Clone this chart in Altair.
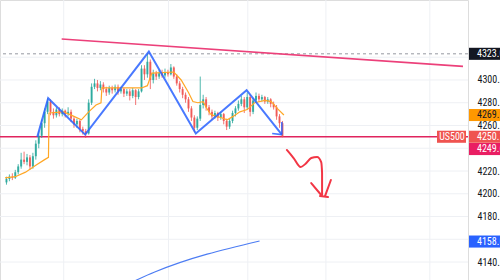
import altair as alt
import pandas as pd

# ---------------- data ----------------
opens = [4210, 4213, 4215, 4214, 4219, 4224, 4230, 4228, 4232, 4224,
         4233, 4244, 4251, 4262, 4272, 4281, 4272, 4269, 4274, 4270,
         4273, 4270, 4272, 4266, 4261, 4264, 4257, 4255, 4253, 4280,
         4294, 4297, 4293, 4296, 4292, 4289, 4293, 4291, 4294, 4290,
         4292, 4288, 4290, 4286, 4291, 4285, 4290, 4310, 4305, 4316,
         4300, 4306, 4303, 4306, 4304, 4307, 4305, 4311, 4303, 4297,
         4292, 4287, 4283, 4275, 4267, 4258, 4266, 4278, 4283, 4276,
         4272, 4268, 4271, 4267, 4270, 4264, 4259, 4264, 4271, 4275,
         4279, 4283, 4276, 4285, 4272, 4282, 4286, 4283, 4285, 4281,
         4283, 4279, 4276, 4268, 4262]
closes = [4213, 4215, 4214, 4219, 4224, 4230, 4228, 4232, 4224, 4233,
          4244, 4251, 4262, 4272, 4281, 4272, 4269, 4274, 4270, 4273,
          4270, 4272, 4266, 4261, 4264, 4257, 4255, 4253, 4280, 4294,
          4297, 4293, 4296, 4292, 4289, 4293, 4291, 4294, 4290, 4292,
          4288, 4290, 4286, 4291, 4285, 4290, 4310, 4305, 4316, 4300,
          4306, 4303, 4306, 4304, 4307, 4305, 4311, 4303, 4297, 4292,
          4287, 4283, 4275, 4267, 4258, 4266, 4278, 4283, 4276, 4272,
          4268, 4271, 4267, 4270, 4264, 4259, 4264, 4271, 4275, 4279,
          4283, 4276, 4285, 4272, 4282, 4286, 4283, 4285, 4281, 4283,
          4279, 4276, 4268, 4262, 4250.1]
highs = [4215, 4217, 4218, 4221, 4226, 4236, 4237, 4235, 4234, 4236,
         4247, 4255, 4265, 4275, 4284, 4283, 4275, 4276, 4276, 4275,
         4274, 4276, 4274, 4268, 4266, 4265, 4259, 4257, 4283, 4297,
         4301, 4300, 4299, 4298, 4294, 4295, 4295, 4296, 4296, 4294,
         4293, 4292, 4292, 4293, 4292, 4292, 4313, 4313, 4323, 4318,
         4309, 4308, 4309, 4309, 4310, 4309, 4314, 4312, 4305, 4299,
         4294, 4289, 4285, 4277, 4269, 4268, 4303, 4287, 4285, 4278,
         4274, 4273, 4272, 4272, 4271, 4266, 4266, 4273, 4277, 4282,
         4286, 4285, 4289, 4287, 4284, 4289, 4288, 4287, 4286, 4285,
         4284, 4281, 4278, 4270, 4264]
lows = [4208, 4211, 4212, 4213, 4217, 4222, 4226, 4225, 4221, 4222,
        4230, 4240, 4249, 4258, 4270, 4269, 4266, 4267, 4268, 4268,
        4267, 4268, 4263, 4258, 4258, 4254, 4252, 4249, 4252, 4278,
        4292, 4290, 4291, 4289, 4286, 4287, 4288, 4289, 4287, 4288,
        4285, 4286, 4282, 4284, 4278, 4283, 4289, 4300, 4302, 4292,
        4297, 4300, 4301, 4302, 4302, 4303, 4304, 4301, 4295, 4289,
        4284, 4280, 4272, 4264, 4254, 4256, 4264, 4275, 4273, 4269,
        4265, 4266, 4264, 4265, 4261, 4256, 4257, 4262, 4268, 4273,
        4277, 4271, 4274, 4268, 4270, 4280, 4281, 4281, 4279, 4279,
        4276, 4274, 4265, 4258, 4249.6]

ma_idx = [-0.5, 3, 6.5, 10, 13, 14.3, 14.5, 19.5, 23, 25.5, 28, 30.5, 32.2,
          32.5, 46, 48, 49.5, 57, 59.5, 62, 63.5, 65.2, 67, 68, 69.5, 71.2,
          73, 75.2, 77.2, 79.5, 82, 84.5, 88, 90.2, 92.2, 94.5]
ma_val = [4214, 4215, 4219, 4225, 4230, 4232, 4271, 4272, 4268, 4265, 4272,
          4278, 4280, 4293, 4293, 4295, 4306, 4307, 4300, 4289, 4281, 4280,
          4281, 4276, 4270, 4268, 4267, 4265, 4268, 4272, 4274, 4280, 4282,
          4281, 4275, 4269.2]

zig_idx = [10.5, 14.2, 26.8, 48.5, 64.5, 81.8, 93.8]
zig_val = [4250, 4284, 4252, 4325, 4253, 4291, 4252]
zig_head_idx = [93.8, 93.8, 90.5, 93.8]
zig_head_val = [4263, 4252, 4253, 4252]
zig_head_seg = [0, 0, 1, 1]

trend_idx = [18.8, 155.5]
trend_val = [4336, 4312]

low_line_idx = [42.8, 50.5, 86.2]
low_line_val = [4122.4, 4131.2, 4158.5]

arrow_idx = [95.5, 97.8, 100.2, 101.8, 103.8, 105.8, 107.2, 107.5, 107.5,
             103.8, 107.2, 110.5, 108.5, 106.8, 109.5]
arrow_val = [4238.5, 4231.4, 4223.5, 4226.2, 4231.4, 4232.3, 4227.9, 4218.2,
             4198.9, 4209.4, 4198.9, 4212.1, 4198.0, 4198.0, 4197.1]
arrow_seg = [0, 0, 0, 0, 0, 0, 0, 0, 0, 1, 1, 2, 2, 3, 3]

grid_x = [19.5, 55.2, 82.2, 108.8, 144.2]
grid_y = [4140, 4160, 4180, 4200, 4220, 4240, 4260, 4280, 4300, 4320]
support_level = [4250]
high_level = [4323]

label_pos = [4323.0, 4269.2, 4250.1, 4239.3, 4158.0]
label_text = ["4323.0", "4269.2", "4250.1", "4249.6", "4158.0"]
label_fill = ["#131722", "#ff9800", "#ef5350", "#e91e63", "#2962ff"]
label_ink = ["#ffffff", "#131722", "#ffffff", "#ffffff", "#ffffff"]
# tick labels that are not hidden under the price boxes
axis_ticks = [4140, 4180, 4200, 4220, 4260, 4280, 4300]

# ---------------- frames ----------------
candles = pd.DataFrame({"i": list(range(len(closes))), "o": opens, "c": closes,
                        "h": highs, "l": lows})
ma = pd.DataFrame({"i": ma_idx, "p": ma_val, "k": list(range(len(ma_idx)))})
zig = pd.DataFrame({"i": zig_idx, "p": zig_val, "k": list(range(len(zig_idx)))})
zhead = pd.DataFrame({"i": zig_head_idx, "p": zig_head_val, "s": zig_head_seg,
                      "k": list(range(len(zig_head_idx)))})
trend = pd.DataFrame({"i": trend_idx, "p": trend_val})
lowl = pd.DataFrame({"i": low_line_idx, "p": low_line_val})
arrow = pd.DataFrame({"i": arrow_idx, "p": arrow_val, "s": arrow_seg,
                      "k": list(range(len(arrow_idx)))})
gx = pd.DataFrame({"i": grid_x})
gy = pd.DataFrame({"p": grid_y})
sup = pd.DataFrame({"p": support_level})
hl = pd.DataFrame({"p": high_level})
labels = pd.DataFrame({"p": label_pos, "t": label_text, "f": label_fill, "ink": label_ink})
us = pd.DataFrame({"p": [label_pos[2]], "t": ["US500"]})

FONT = "Liberation Sans Narrow, Roboto Condensed, DejaVu Sans Condensed, Liberation Sans"
FS = 10
GRID = "#eef0f4"

XS = alt.Scale(domain=[-0.5, 155.5], nice=False, zero=False)
YS = alt.Scale(domain=[4124.2, 4370.3], nice=False, zero=False)

yaxis = alt.Axis(orient="right", values=axis_ticks, format=".1f", ticks=False,
                 domain=False, grid=False, labelFontSize=FS, labelColor="#131722",
                 labelFont=FONT, labelPadding=9, labelAlign="left",
                 title=None, zindex=0)


def X(f="i"):
    return alt.X(f"{f}:Q", scale=XS, axis=None)


def Y(f="p"):
    return alt.Y(f"{f}:Q", scale=YS, axis=yaxis, title=None)


vgrid = alt.Chart(gx).mark_rule(color=GRID, strokeWidth=1).encode(x=X())
hgrid = alt.Chart(gy).mark_rule(color=GRID, strokeWidth=1).encode(
    y=Y(), x=alt.value(0), x2=alt.value(468))

dashed = alt.Chart(hl).mark_rule(color="#9598a1", strokeWidth=1, strokeDash=[3, 3]).encode(y=Y())
support = alt.Chart(sup).mark_rule(color="#e0245e", strokeWidth=1.5).encode(y=Y())
trendl = alt.Chart(trend).mark_line(color="#ec407a", strokeWidth=1.6, clip=True).encode(x=X(), y=Y())

col = alt.Color("d:N", scale=alt.Scale(domain=["up", "down"], range=["#26a69a", "#ef5350"]), legend=None)
base = alt.Chart(candles).transform_calculate(d="datum.c >= datum.o ? 'up' : 'down'")
wicks = base.mark_rule(strokeWidth=1, opacity=0.8).encode(x=X(), y=Y("l"), y2="h:Q", color=col)
bodies = base.mark_bar(size=2, opacity=0.85).encode(x=X(), y=Y("o"), y2="c:Q", color=col)

maline = alt.Chart(ma).mark_line(color="#ffa726", strokeWidth=1.2, clip=True).encode(
    x=X(), y=Y(), order="k:Q")
zigl = alt.Chart(zig).mark_line(color="#2962ff", strokeWidth=2, opacity=0.85).encode(
    x=X(), y=Y(), order="k:Q")
zh = alt.Chart(zhead).mark_line(color="#2962ff", strokeWidth=1.6, opacity=0.85).encode(
    x=X(), y=Y(), detail="s:N", order="k:Q")
lowline = alt.Chart(lowl).mark_line(color="#4c7cf3", strokeWidth=1.1, clip=True,
                                    interpolate="monotone").encode(x=X(), y=Y())
arr = alt.Chart(arrow).mark_line(color="#f23645", strokeWidth=2, strokeCap="round",
                                 strokeJoin="round", interpolate="monotone").encode(
    x=X(), y=Y(), detail="s:N", order="k:Q")

lab_base = alt.Chart(labels).transform_calculate(lo="datum.p - 5.3", hi="datum.p + 5.3")
boxes = lab_base.mark_rect().encode(
    x=alt.value(469), x2=alt.value(500), y=Y("lo"), y2="hi:Q",
    color=alt.Color("f:N", scale=None))
btxt = alt.Chart(labels).mark_text(align="left", baseline="middle", fontSize=FS,
                                   font=FONT).encode(
    x=alt.value(477), y=Y(), text="t:N", color=alt.Color("ink:N", scale=None))

us_box = alt.Chart(us).transform_calculate(lo="datum.p - 5.3", hi="datum.p + 5.3").mark_rect(
    color="#ef5350").encode(x=alt.value(437), x2=alt.value(466), y=Y("lo"), y2="hi:Q")
us_txt = alt.Chart(us).mark_text(align="center", baseline="middle", fontSize=FS,
                                 font=FONT, color="#ffffff").encode(
    x=alt.value(452), y=Y(), text="t:N")

chart = alt.layer(hgrid, vgrid, dashed, trendl, support, lowline, wicks, bodies, maline,
                  zigl, zh, arr, us_box, us_txt, boxes, btxt).properties(
    width=468, height=280,
    autosize=alt.AutoSizeParams(type="none"),
    padding={"left": 0, "top": 0, "right": 32, "bottom": 0},
).configure_view(strokeWidth=0).configure(background="#ffffff")

chart.save("out.html", embed_options={"renderer": "svg", "actions": False})
